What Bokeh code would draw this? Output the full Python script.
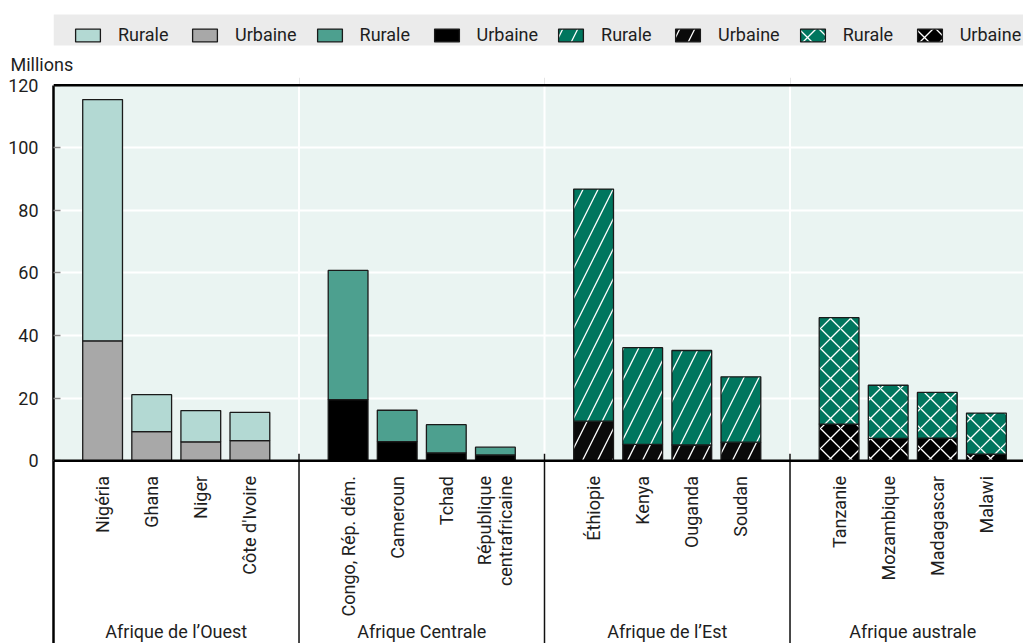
import math
from bokeh.plotting import figure
from bokeh.layouts import column
from bokeh.models import FixedTicker, Span, BoxAnnotation, Legend, LegendItem, Range1d, Title
from bokeh.core.properties import value
from bokeh.embed import file_html
from bokeh.resources import INLINE

FONT = "Roboto"
FS = "18px"
TXT = "#1e1e1e"

# ---------------- data ----------------
regions = ["Afrique de l’Ouest", "Afrique Centrale", "Afrique de l’Est", "Afrique australe"]
countries_west = ["Nigéria", "Ghana", "Niger", "Côte d'Ivoire"]
countries_central = ["Congo, Rép. dém.", "Cameroun", "Tchad", "République\ncentrafricaine"]
countries_east = ["Éthiopie", "Kenya", "Ouganda", "Soudan"]
countries_south = ["Tanzanie", "Mozambique", "Madagascar", "Malawi"]

urban_west = [38.3, 9.3, 6.0, 6.4]
rural_west = [77.1, 11.8, 10.0, 9.0]
urban_central = [19.5, 6.1, 2.5, 1.8]
rural_central = [41.3, 10.0, 9.0, 2.5]
urban_east = [12.6, 5.2, 5.0, 5.9]
rural_east = [74.2, 30.9, 30.2, 20.9]
urban_south = [11.7, 7.1, 7.2, 2.1]
rural_south = [34.0, 17.0, 14.6, 13.1]

legend_labels = ["Rurale", "Urbaine"]
y_ticks = [0, 20, 40, 60, 80, 100, 120]
y_unit = "Millions"

groups = [
    (countries_west, urban_west, rural_west),
    (countries_central, urban_central, rural_central),
    (countries_east, urban_east, rural_east),
    (countries_south, urban_south, rural_south),
]

# ---------------- styles ----------------
rural_colors = ["#B3D9D3", "#4DA08F", "#00765E", "#00765E"]
urban_colors = ["#A8A8A8", "#000000", "#0A0A0A", "#000000"]
hatches = [None, None, "/", "x"]
hatch_scales = [12, 12, 30, 20]

SLOT = 5  # slots per region (4 bars + gap)
W, H = 1023, 643
HH = 48              # header strip (legend band)
TB = 27              # unit title strip above the frame
LEFT = 53
PX_X, PX_Y, ZERO_Y = 49.1, 3.14, 459.5
X_END = (W - LEFT) / PX_X
Y_TOP = (ZERO_Y - HH - TB) / PX_Y
Y_BOT = -(H - ZERO_Y) / PX_Y


def bar_style(g):
    st = dict(line_color="#1a1a1a", line_width=1.3)
    if hatches[g]:
        st.update(hatch_pattern=hatches[g], hatch_color="white",
                  hatch_scale=hatch_scales[g], hatch_weight=1.3)
    return st


def stacks(g):
    names, urb, rur = groups[g]
    xs = [SLOT * g + j + 1 for j in range(len(names))]
    tops = [u + r for u, r in zip(urb, rur)]
    return xs, urb, tops


# ================= header strip: legend =================
head = figure(width=W, height=HH, output_backend="svg", toolbar_location=None,
              x_range=Range1d(0, X_END), y_range=Range1d(0, HH),
              x_axis_location=None, y_axis_location=None, title_location=None,
              min_border_left=LEFT, min_border_right=0, min_border_top=0, min_border_bottom=0)
head.outline_line_color = None
head.background_fill_color = "white"
head.border_fill_color = "white"
head.xgrid.visible = False
head.ygrid.visible = False

head.add_layout(BoxAnnotation(bottom=HH - 45, top=HH - 14, fill_color="#EBEBEB",
                              fill_alpha=1, line_color=None, level="underlay"))

items = []
for g in range(len(groups)):
    xs, urb, tops = stacks(g)
    lr = head.vbar(x=xs, bottom=urb, top=tops, width=0.81, fill_color=rural_colors[g],
                   visible=False, **bar_style(g))
    lu = head.vbar(x=xs, bottom=0, top=urb, width=0.81, fill_color=urban_colors[g],
                   visible=False, **bar_style(g))
    items.append(LegendItem(label=legend_labels[0], renderers=[lr]))
    items.append(LegendItem(label=legend_labels[1], renderers=[lu]))

legend = Legend(items=items, orientation="horizontal", location=(19, HH - 45),
                background_fill_alpha=0, border_line_color=None, padding=7, margin=0,
                spacing=17, glyph_width=31, glyph_height=16, label_standoff=15,
                label_width=54, label_height=17, inactive_fill_alpha=0,
                label_text_font=FONT, label_text_font_size=FS, label_text_color=TXT)
head.add_layout(legend)

# ================= main chart =================
p = figure(width=W, height=H - HH, output_backend="svg", toolbar_location=None,
           x_range=Range1d(0, X_END), y_range=Range1d(Y_BOT, Y_TOP),
           x_axis_location=None, title_location=None,
           min_border_left=LEFT, min_border_right=0, min_border_top=TB, min_border_bottom=0)
p.outline_line_color = None
p.background_fill_color = "white"
p.border_fill_color = "white"

p.add_layout(Title(text=y_unit, align="left", offset=-43, text_font=FONT, text_font_size=FS,
                   text_font_style="normal", text_color=TXT, standoff=6), "above")

# plot-area background
p.add_layout(BoxAnnotation(bottom=0, top=120, fill_color="#EAF4F2", fill_alpha=1,
                           line_color=None, level="image"))

# grid
p.ygrid.ticker = FixedTicker(ticks=y_ticks[1:-1])
p.ygrid.grid_line_color = "white"
p.ygrid.grid_line_width = 2

# y axis
ax = p.yaxis[0]
ax.ticker = FixedTicker(ticks=y_ticks)
ax.bounds = (Y_BOT, 120)
ax.axis_line_color = "black"
ax.axis_line_width = 2.5
ax.major_tick_in = 7
ax.major_tick_out = 0
ax.major_tick_line_color = "#888888"
ax.major_tick_line_width = 1.5
ax.minor_tick_line_color = None
ax.major_label_text_font = FONT
ax.major_label_text_font_size = FS
ax.major_label_text_color = TXT
ax.major_label_standoff = 15

# separators between regions
bounds = [SLOT * g for g in range(1, len(groups))]
p.segment(x0=bounds, y0=[0] * len(bounds), x1=bounds, y1=[120] * len(bounds),
          line_color="white", line_width=2)
p.segment(x0=bounds, y0=[2.2] * len(bounds), x1=bounds, y1=[Y_BOT] * len(bounds),
          line_color="#111111", line_width=1.5)

label_x, label_text = [], []
for g, (names, urb, rur) in enumerate(groups):
    xs, urb, tops = stacks(g)
    p.vbar(x=xs, bottom=0, top=urb, width=0.81, fill_color=urban_colors[g], **bar_style(g))
    p.vbar(x=xs, bottom=urb, top=tops, width=0.81, fill_color=rural_colors[g], **bar_style(g))
    label_x += xs
    label_text += names

# country labels (rotated) and region labels
p.text(x=label_x, y=[-4.9] * len(label_x), text=label_text, angle=math.pi / 2,
       text_align="right", text_baseline="middle", text_font=value(FONT),
       text_font_size=FS, text_color=TXT, text_line_height=1.0)
p.text(x=[SLOT * g + 2.5 for g in range(len(groups))], y=[-54.7] * len(groups), text=regions,
       text_align="center", text_baseline="middle", text_font=value(FONT),
       text_font_size=FS, text_color=TXT)

# frame lines
p.add_layout(Span(location=0, dimension="width", line_color="black", line_width=2.5))
p.add_layout(Span(location=120, dimension="width", line_color="black", line_width=2.5))

layout = column(head, p, spacing=0)
open("out.html", "w").write(file_html(layout, INLINE))
